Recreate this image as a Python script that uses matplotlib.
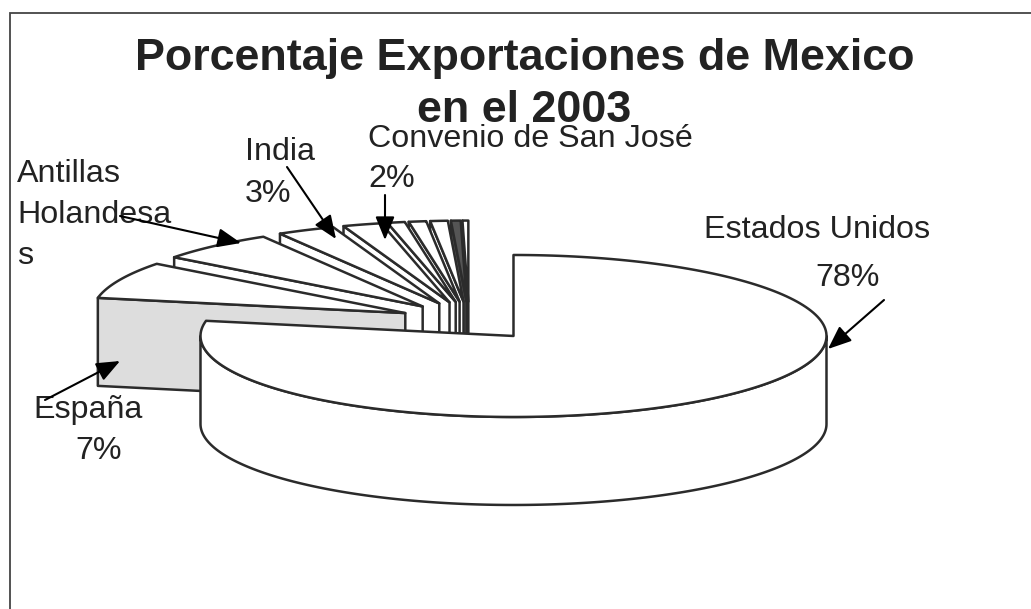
#!/usr/bin/env python3
"""Exploded 3D pie drawn by hand, matplotlib has no 3D pie."""
import numpy as np
import matplotlib
matplotlib.use("Agg")
import matplotlib.pyplot as plt
from matplotlib.patches import Polygon

TITLE = ["Porcentaje Exportaciones de Mexico", "en el 2003"]
# shares in percent, clockwise; Estados Unidos starts at 12 o'clock
SHARES = [78.0, 7.4, 6.1, 3.0, 2.0, 0.9, 0.9, 0.9, 0.5, 0.3]
TOP_COLORS = ["white", "white", "white", "white", "white", "white", "white", "white", "#555555", "white"]
WALL_COLORS = ["white", "#dddddd", "white", "white", "white", "white", "white", "white", "#555555", "#222222"]

LINE = "#2b2b2b"
CX, CY = 469, 321      # pie centre before explosion, pixels
RX, RY = 313, 81
DEPTH = 88
EXPLODE_X, EXPLODE_Y = 0.223, 0.24

plt.rcParams["font.family"] = ["Liberation Sans", "DejaVu Sans"]
fig = plt.figure(figsize=(10.31, 6.09), dpi=100)
ax = fig.add_axes([0, 0, 1, 1])
ax.set_xlim(0, 1031)
ax.set_ylim(609, 0)
ax.axis("off")


def pt(center, deg):
    a = np.radians(deg)
    return center[0] + RX * np.sin(a), center[1] - RY * np.cos(a)


def arc(center, a0, a1, dy=0):
    t = np.radians(np.linspace(a0, a1, 200))
    return np.column_stack([center[0] + RX * np.sin(t), center[1] - RY * np.cos(t) + dy])


def poly(pts, fc, z):
    ax.add_patch(Polygon(pts, closed=True, fc=fc, ec=LINE, lw=1.8, joinstyle="round", zorder=z))


edges = np.concatenate([[0], np.cumsum(SHARES) * 3.6])
edges[-1] = 360
for i in range(len(SHARES) - 1, -1, -1):
    a0, a1 = edges[i], edges[i + 1]
    m = np.radians((a0 + a1) / 2)
    apex = (CX + EXPLODE_X * RX * np.sin(m), CY - EXPLODE_Y * RY * np.cos(m))
    z = len(SHARES) - i
    if i == 0:
        # outer rim, only the front half shows
        poly(np.vstack([arc(apex, 90, 270), arc(apex, 270, 90, DEPTH)]), WALL_COLORS[i], z)
    else:
        # cut face of the slice, the one turned to the viewer
        p = pt(apex, a0)
        poly([p, apex, (apex[0], apex[1] + DEPTH), (p[0], p[1] + DEPTH)], WALL_COLORS[i], z)
    poly(np.vstack([[apex], arc(apex, a0, a1)]), TOP_COLORS[i], z + 0.5)

ax.add_patch(Polygon([(10, 609), (10, 12.5), (1031, 12.5)], closed=False,
                     fc="none", ec="#444444", lw=1.3, zorder=30))

title_kw = dict(ha="center", fontsize=32.3, fontweight="bold", color="#222222", zorder=20)
ax.text(525, 70, TITLE[0], va="baseline", **title_kw)
ax.text(524, 122, TITLE[1], va="baseline", **title_kw)

label_kw = dict(fontsize=23.2, color="#222222", va="baseline", zorder=21)
for x, y, s, ha in [(17, 182, "Antillas", "left"), (17, 223, "Holandesa", "left"), (17, 264, "s", "left"),
                    (245, 160, "India", "left"), (245, 202, "3%", "left"),
                    (368, 147, "Convenio de San José", "left"), (368, 187, "2%", "left"),
                    (704, 238, "Estados Unidos", "left"), (880, 286, "78%", "right"),
                    (33, 418, "España", "left"), (122, 459, "7%", "right")]:
    ax.text(x, y, s, ha=ha, **label_kw)

arrows = [((120, 216), (241, 243)), ((287, 167), (336, 239)), ((385, 195), (385, 240)),
          ((884, 300), (828, 349)), ((45, 400), (120, 361))]
for start, end in arrows:
    ax.annotate("", xy=end, xytext=start, zorder=25,
                arrowprops=dict(arrowstyle="-|>,head_length=1.1,head_width=0.45", color="black",
                                lw=1.5, mutation_scale=13, shrinkA=0, shrinkB=0))

fig.savefig("out.png", dpi=100)
